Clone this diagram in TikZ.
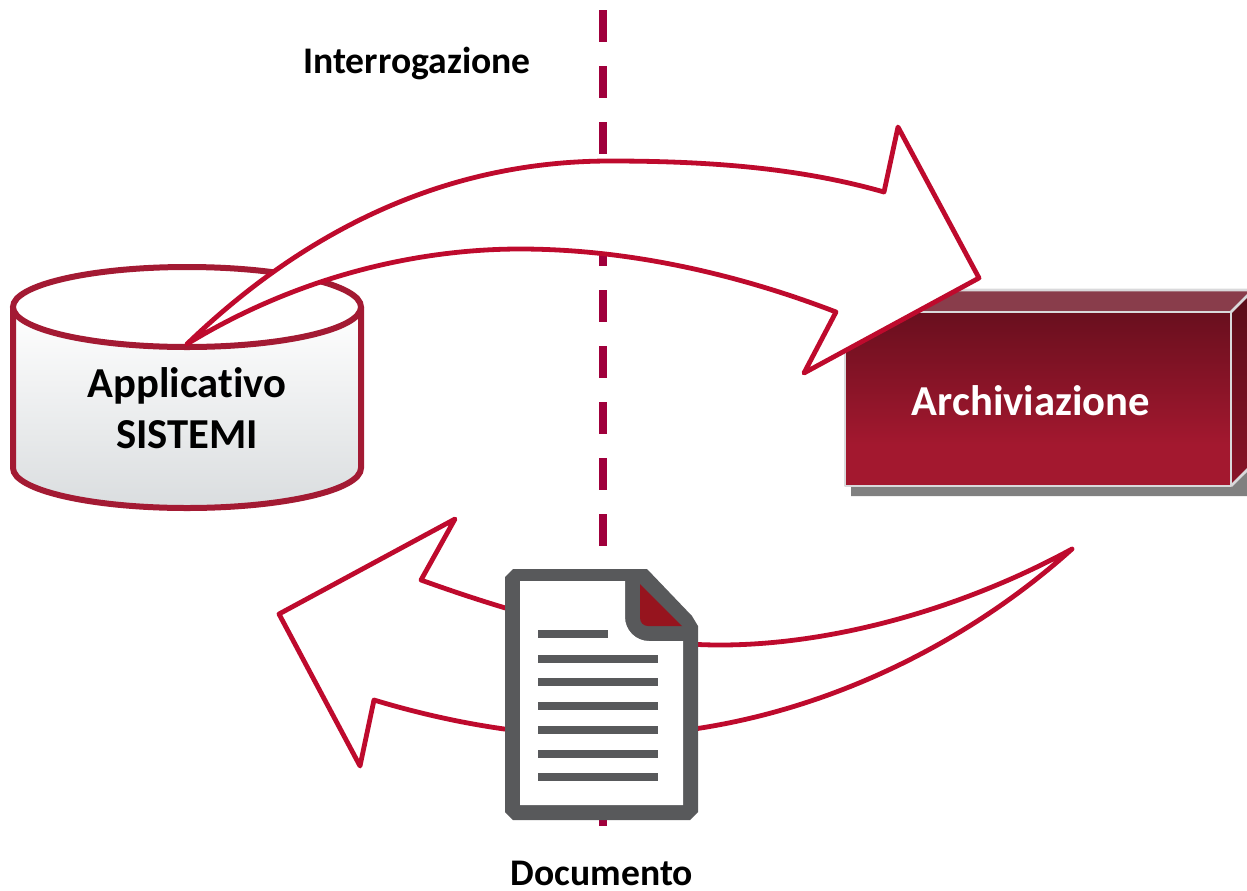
\documentclass[tikz,border=0pt]{standalone}
\usepackage{fontspec}
\setmainfont[RawFeature={-liga}]{Carlito}
\definecolor{arrowred}{HTML}{BE0A2D}
\definecolor{dashred}{HTML}{A0003C}
\definecolor{cylred}{HTML}{A31A33}
\definecolor{docgray}{HTML}{58595B}
\definecolor{foldred}{HTML}{96141E}
\definecolor{cylbot}{HTML}{DADDDF}
\definecolor{boxtop}{HTML}{690F1E}
\definecolor{boxbot}{HTML}{A3182F}
\definecolor{boxedge}{HTML}{D9D9DB}
\definecolor{boxlid}{HTML}{893D4B}
\definecolor{sidetop}{HTML}{580C18}
\definecolor{sidebot}{HTML}{8A1428}
\definecolor{shadowgray}{HTML}{808080}
\tikzset{
  lbl/.style={font=\bfseries\fontsize{32}{38}\selectfont,align=center,inner sep=0pt},
  sidelbl/.style={font=\bfseries\fontsize{28.2}{34}\selectfont,align=center,inner sep=0pt},
  bigarrow/.style={draw=arrowred,line width=3.6pt,fill=white,line join=round},
  docline/.style={fill=docgray,draw=none}
}
\begin{document}
\begin{tikzpicture}[x=0.75pt,y=-0.75pt]
\useasboundingbox (0,0) rectangle (1247,890);
\clip (0,0) rectangle (1247,890);
% dashed axis
\coordinate (axT) at (603,10);
\coordinate (axB) at (603,826);
\draw[dashred,line width=6pt,dash pattern=on 24pt off 18pt] (axT) -- (axB);
% cylinder
\shade[top color=white,bottom color=cylbot] (13,307) -- (13,468) arc[start angle=180,end angle=0,x radius=174,y radius=40] -- (361,307) -- cycle;
\draw[cylred,line width=4.5pt] (13,307) -- (13,468) arc[start angle=180,end angle=0,x radius=174,y radius=40] -- (361,307);
\draw[cylred,line width=4.5pt,fill=white] (187,307) ellipse[x radius=174,y radius=40];
\node[lbl] (app) at (187,408) {Applicativo\\SISTEMI};
% box
\fill[shadowgray] (851,486) -- (1231,486) -- (1247,472) -- (1247,496) -- (851,496) -- cycle;
\fill[boxlid] (845,312) -- (867,290) -- (1253,290) -- (1231,312) -- cycle;
\shade[top color=sidetop,bottom color=sidebot] (1231,312) -- (1253,290) -- (1253,464) -- (1231,486) -- cycle;
\shade[top color=boxtop,bottom color=boxbot] (845,312) rectangle (1231,445);
\fill[boxbot] (845,445) rectangle (1231,486);
\draw[boxedge,line width=2pt,line join=round] (845,312) rectangle (1231,486);
\draw[boxedge,line width=2pt,line join=round] (845,312) -- (867,290) -- (1253,290) (1231,312) -- (1253,290) (1231,486) -- (1253,464);
\node[lbl,text=white] (arch) at (1031,401) {Archiviazione};
% upper arrow
\draw[bigarrow] (187,344) .. controls (300,235) and (440,161) .. (610,161)
  .. controls (710,161) and (800,168) .. (884,192)
  -- (898,127) -- (979,278) -- (804,373) -- (836,312)
  .. controls (740,275) and (630,249) .. (520,249)
  .. controls (420,249) and (300,275) .. (187,344) -- cycle;
% lower arrow
\draw[bigarrow] (1072,549) .. controls (960,610) and (830,645) .. (720,645)
  .. controls (620,645) and (510,612) .. (421,580)
  -- (455,519) -- (279,614) -- (360,766) -- (374,700)
  .. controls (440,720) and (520,736) .. (600,736)
  .. controls (790,736) and (960,650) .. (1072,549) -- cycle;
% document
\fill[docgray] (513,569) -- (647,569) -- (692,616) -- (698,626) -- (698,812) -- (690,820) -- (513,820) -- (505,812) -- (505,577) -- cycle;
\fill[white] (520,581) -- (625,581) -- (625,617) arc[start angle=180,end angle=90,radius=24] -- (683,641) -- (683,805) -- (520,805) -- cycle;
\fill[foldred] (640,584) -- (682,626) -- (648,626) arc[start angle=90,end angle=180,radius=8] -- cycle;
\fill[docline] (538,630) rectangle (608,638);
\fill[docline] (538,655) rectangle (658,663);
\fill[docline] (538,678) rectangle (658,686);
\fill[docline] (538,702) rectangle (658,710);
\fill[docline] (538,726) rectangle (658,734);
\fill[docline] (538,750) rectangle (658,758);
\fill[docline] (538,773) rectangle (658,781);
% labels
\node[sidelbl] (interr) at (417,63) {Interrogazione};
\node[sidelbl] (docu) at (602,873) {Documento};
\end{tikzpicture}
\end{document}
